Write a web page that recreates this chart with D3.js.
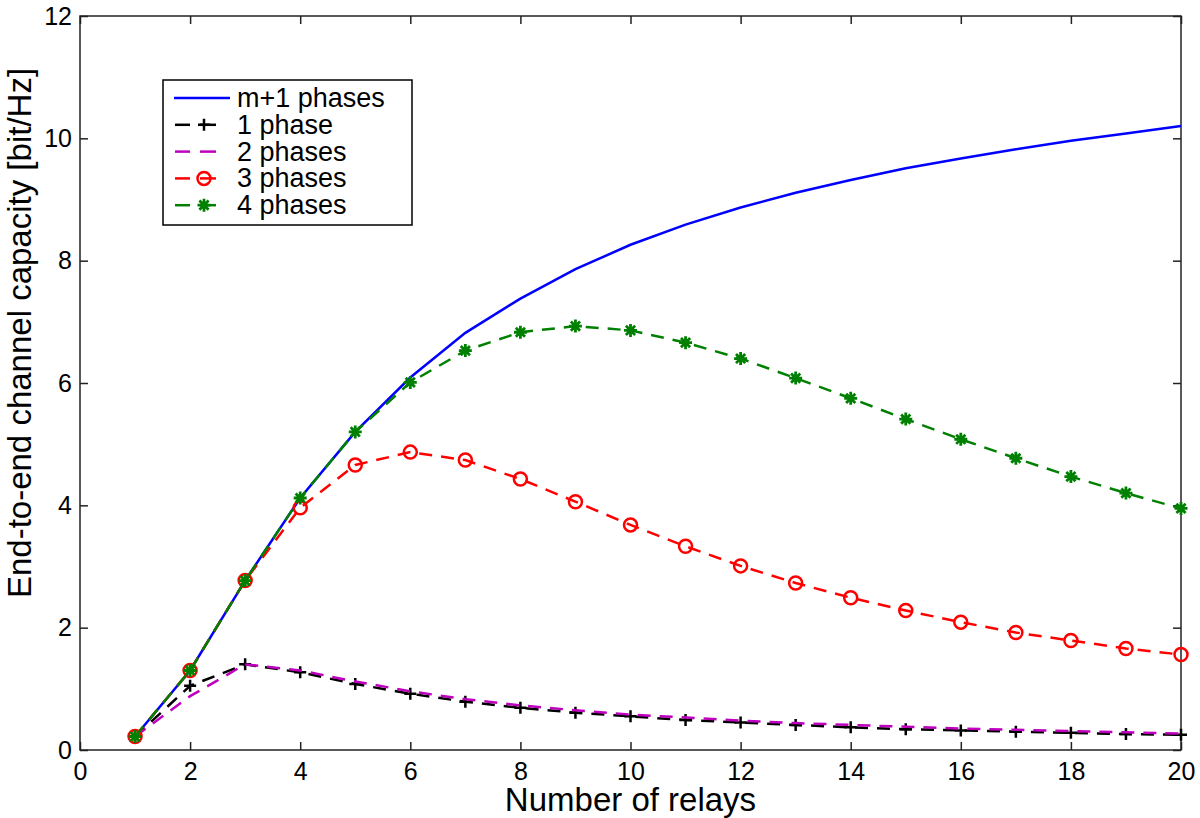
<!DOCTYPE html>
<html><head><meta charset="utf-8">
<script src="https://cdn.jsdelivr.net/npm/d3@7"></script>
<style>body{margin:0;background:#fff}text{font-family:"Liberation Sans",Arial,sans-serif}</style>
</head><body><svg id="c" width="1200" height="818"></svg>
<script>
const relays = d3.range(1, 21);
const mPlus1 = [0.22,1.30,2.77,4.12,5.20,6.09,6.82,7.38,7.86,8.26,8.59,8.87,9.11,9.32,9.51,9.67,9.82,9.96,10.08,10.20];
const phase1 = [0.22,1.05,1.40,1.27,1.08,0.92,0.79,0.69,0.61,0.55,0.49,0.45,0.41,0.37,0.34,0.32,0.30,0.28,0.26,0.25];
const phase2 = [0.22,0.88,1.40,1.30,1.12,0.96,0.83,0.73,0.65,0.58,0.53,0.48,0.44,0.41,0.38,0.35,0.33,0.31,0.29,0.27];
const phase3 = [0.22,1.30,2.77,3.96,4.66,4.87,4.74,4.43,4.06,3.68,3.33,3.01,2.73,2.49,2.28,2.09,1.92,1.79,1.66,1.56];
const phase4 = [0.22,1.30,2.77,4.12,5.20,6.01,6.53,6.83,6.93,6.86,6.66,6.40,6.08,5.75,5.41,5.08,4.77,4.47,4.20,3.95];
const xTicks = [0,2,4,6,8,10,12,14,16,18,20];
const yTicks = [0,2,4,6,8,10,12];
const seriesNames = ["m+1 phases","1 phase","2 phases","3 phases","4 phases"];

const series = [
  {name: seriesNames[0], values: mPlus1, color: "#0000ff", dash: null, marker: null},
  {name: seriesNames[1], values: phase1, color: "#000000", dash: "13,9", marker: "plus"},
  {name: seriesNames[2], values: phase2, color: "#bf00bf", dash: "13,9", marker: null},
  {name: seriesNames[3], values: phase3, color: "#ff0000", dash: "13,9", marker: "circle"},
  {name: seriesNames[4], values: phase4, color: "#008000", dash: "13,9", marker: "star"}
];

const L = 80, R = 1181, T = 16, B = 750;
const svg = d3.select("#c");
const x = d3.scaleLinear().domain([0,20]).range([L,R]);
const y = d3.scaleLinear().domain([0,12]).range([B,T]);

// axes box
const tl = 8;
const g = svg.append("g");
g.append("g").attr("transform",`translate(0,${B})`)
  .call(d3.axisBottom(x).tickValues(xTicks).tickSize(-tl).tickPadding(12).tickSizeOuter(0))
  .call(s=>{s.select(".domain").remove(); s.selectAll("text").attr("font-size",25).attr("fill","#000");});
g.append("g").attr("transform",`translate(0,${T})`)
  .call(d3.axisTop(x).tickValues(xTicks).tickSize(-tl).tickFormat("").tickSizeOuter(0))
  .call(s=>s.select(".domain").remove());
g.append("g").attr("transform",`translate(${L},0)`)
  .call(d3.axisLeft(y).tickValues(yTicks).tickSize(-tl).tickPadding(8).tickSizeOuter(0))
  .call(s=>{s.select(".domain").remove(); s.selectAll("text").attr("font-size",25).attr("fill","#000");});
g.append("g").attr("transform",`translate(${R},0)`)
  .call(d3.axisRight(y).tickValues(yTicks).tickSize(-tl).tickFormat("").tickSizeOuter(0))
  .call(s=>s.select(".domain").remove());
g.selectAll(".tick line").attr("stroke","#222").attr("stroke-width",1.5);
g.append("rect").attr("x",L).attr("y",T).attr("width",R-L).attr("height",B-T)
  .attr("fill","none").attr("stroke","#222").attr("stroke-width",1.5);

// labels
svg.append("text").attr("x",(L+R)/2).attr("y",811).attr("text-anchor","middle")
  .attr("font-size",33).text("Number of relays");
svg.append("text").attr("transform",`translate(31,333) rotate(-90)`).attr("text-anchor","middle")
  .attr("font-size",33).text("End-to-end channel capacity [bit/Hz]");

function drawMarker(sel, type, color, cx, cy) {
  if (type === "plus") {
    sel.append("path").attr("d",`M${cx-6},${cy}H${cx+6}M${cx},${cy-6}V${cy+6}`)
      .attr("stroke",color).attr("stroke-width",2.5).attr("fill","none");
  } else if (type === "circle") {
    sel.append("circle").attr("cx",cx).attr("cy",cy).attr("r",6.5)
      .attr("stroke",color).attr("stroke-width",2.5).attr("fill","none");
  } else if (type === "star") {
    const r = 6.5, d = r*0.7071;
    sel.append("path").attr("d",`M${cx-r},${cy}H${cx+r}M${cx},${cy-r}V${cy+r}M${cx-d},${cy-d}L${cx+d},${cy+d}M${cx-d},${cy+d}L${cx+d},${cy-d}`)
      .attr("stroke",color).attr("stroke-width",2.8).attr("fill","none");
  }
}

const line = d3.line().x((d,i)=>x(relays[i])).y(d=>y(d));
const plot = svg.append("g");
series.forEach(s => {
  plot.append("path").attr("d", line(s.values)).attr("fill","none")
    .attr("stroke", s.color).attr("stroke-width", 2.5)
    .attr("stroke-dasharray", s.dash);
  if (s.marker) {
    const mg = plot.append("g");
    s.values.forEach((v,i)=>drawMarker(mg, s.marker, s.color, x(relays[i]), y(v)));
  }
});

// legend
const lg = svg.append("g");
lg.append("rect").attr("x",163).attr("y",80).attr("width",249).attr("height",145)
  .attr("fill","#fff").attr("stroke","#000").attr("stroke-width",1.5);
series.forEach((s,i) => {
  const yy = 98 + i*26.8;
  if (s.dash) {
    lg.append("line").attr("x1",175).attr("x2",190).attr("y1",yy).attr("y2",yy)
      .attr("stroke",s.color).attr("stroke-width",2.5);
    lg.append("line").attr("x1",200).attr("x2",216).attr("y1",yy).attr("y2",yy)
      .attr("stroke",s.color).attr("stroke-width",2.5);
  } else {
    lg.append("line").attr("x1",174).attr("x2",230).attr("y1",yy).attr("y2",yy)
      .attr("stroke",s.color).attr("stroke-width",2.5);
  }
  if (s.marker) drawMarker(lg, s.marker, s.color, 204, yy);
  lg.append("text").attr("x",237).attr("y",yy+9).attr("font-size",27).text(s.name);
});
</script></body></html>
